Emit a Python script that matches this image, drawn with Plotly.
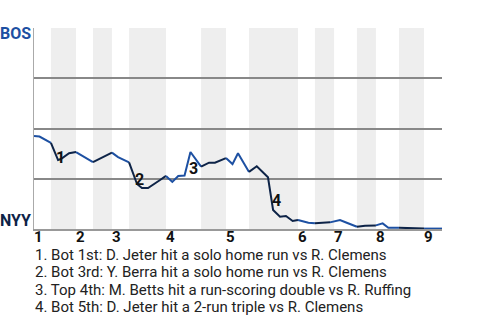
import plotly.graph_objects as go

# Half-inning start positions (play index), game end
half_starts = [0, 8.3, 20.6, 28.9, 38.2, 46.6, 64.7, 81.9, 94.1, 105.4,
               129.4, 137.7, 147.1, 158.3, 167.6, 178.9, 191.2]
game_end = 200
inning_labels = ["1", "2", "3", "4", "5", "6", "7", "8", "9"]

# Boston win probability after each play
play_x = [0, 2.7, 8.3, 11.8, 13.2, 17.2, 20.6, 25.8, 28.9, 38.2, 41.2, 46.6,
          49.5, 50.5, 52.9, 55.9, 61.8, 64.7, 67.8, 70.7, 73.8, 76.7, 81.9,
          85.8, 88.7, 94.1, 97.3, 100.0, 105.4, 109.2, 114.7, 117.2, 120.6,
          123.5, 126.8, 129.4, 134.5, 137.7, 145.1, 150.0, 153.3, 158.3,
          162.3, 167.6, 170.9, 173.7, 178.9, 185.9, 191.2, 200]
bos_wp = [0.463, 0.46, 0.428, 0.343, 0.348, 0.377, 0.383, 0.352, 0.333, 0.38,
          0.358, 0.331, 0.244, 0.224, 0.204, 0.204, 0.244, 0.264, 0.234,
          0.264, 0.266, 0.383, 0.31, 0.33, 0.33, 0.353, 0.323, 0.377, 0.284,
          0.312, 0.257, 0.095, 0.061, 0.065, 0.04, 0.045, 0.031, 0.028,
          0.033, 0.045, 0.031, 0.011, 0.016, 0.018, 0.028, 0.006, 0.006,
          0.002, 0.002, 0.002]

# Key plays
key_labels = ["1", "2", "3", "4"]
key_x = [13.2, 51.6, 78.1, 118.8]
key_y = [0.358, 0.244, 0.30, 0.141]
key_text = [
    "1. Bot 1st: D. Jeter hit a solo home run vs R. Clemens",
    "2. Bot 3rd: Y. Berra hit a solo home run vs R. Clemens",
    "3. Top 4th: M. Betts hit a run-scoring double vs R. Ruffing",
    "4. Bot 5th: D. Jeter hit a 2-run triple vs R. Clemens",
]

BOS_COLOR = "#1d50a2"
NYY_COLOR = "#0d2347"
FONT = "Roboto"

fig = go.Figure()

bounds = half_starts + [game_end]
shapes = []
for i in range(len(half_starts)):
    a, b = bounds[i], bounds[i + 1]
    if i % 2 == 1:
        shapes.append(dict(type="rect", xref="x", yref="paper", x0=a, x1=b,
                           y0=0, y1=1, fillcolor="#eeeeee", line_width=0,
                           layer="below"))
    xs, ys = [], []
    prev = None
    for x, y in zip(play_x, bos_wp):
        if x <= a:
            prev = (x, y)
        elif x <= b:
            xs.append(x)
            ys.append(y)
    if i == 0:
        xs = [play_x[0]] + xs
        ys = [bos_wp[0]] + ys
    elif prev is not None:
        xs = [prev[0]] + xs
        ys = [prev[1]] + ys
    fig.add_trace(go.Scatter(x=xs, y=ys, mode="lines",
                             line=dict(color=BOS_COLOR if i % 2 == 0 else NYY_COLOR,
                                       width=2),
                             showlegend=False, hoverinfo="skip"))

annotations = []
for lab, x, y in zip(key_labels, key_x, key_y):
    annotations.append(dict(x=x, y=y, xref="x", yref="y", text=lab,
                            showarrow=False,
                            font=dict(family=FONT, size=16, color="#111111",
                                      weight="bold")))
# inning labels, left-aligned at each inning start
for lab, x in zip(inning_labels, half_starts[::2]):
    annotations.append(dict(x=x, y=0, xref="x", yref="paper", text=lab,
                            xanchor="left", yanchor="middle", yshift=-8,
                            xshift=-2, showarrow=False,
                            font=dict(family=FONT, size=15, color="#111111",
                                      weight="bold")))
annotations.append(dict(x=0, y=1, xref="paper", yref="paper", text="BOS",
                        xanchor="right", yanchor="middle", xshift=-1, yshift=-5,
                        showarrow=False,
                        font=dict(family=FONT, size=16, color=BOS_COLOR,
                                  weight="bold")))
annotations.append(dict(x=0, y=0, xref="paper", yref="paper", text="NYY",
                        xanchor="right", yanchor="middle", xshift=-1, yshift=9,
                        showarrow=False,
                        font=dict(family=FONT, size=16, color=NYY_COLOR,
                                  weight="bold")))
for k, line in enumerate(key_text):
    annotations.append(dict(x=0, y=0, xref="paper", yref="paper",
                            text=line, align="left",
                            xanchor="left", yanchor="middle",
                            yshift=-26 - 17.3 * k, xshift=-1,
                            showarrow=False,
                            font=dict(family=FONT, size=15, color="#222222")))

fig.update_layout(
    width=480, height=320,
    margin=dict(l=34, r=38, t=28, b=91),
    paper_bgcolor="white", plot_bgcolor="white",
    font=dict(family=FONT),
    shapes=shapes, annotations=annotations,
    xaxis=dict(range=[0, game_end], showticklabels=False, showgrid=False,
               zeroline=False, showline=True, linecolor="#999999",
               linewidth=2, ticks=""),
    yaxis=dict(range=[0, 1], tickvals=[0.25, 0.5, 0.75, 1.0],
               showticklabels=False, showgrid=True, gridcolor="#888888",
               gridwidth=1.5, zeroline=False, showline=True,
               linecolor="#aaaaaa", linewidth=1, ticks=""),
)

fig.write_html("out.html")
